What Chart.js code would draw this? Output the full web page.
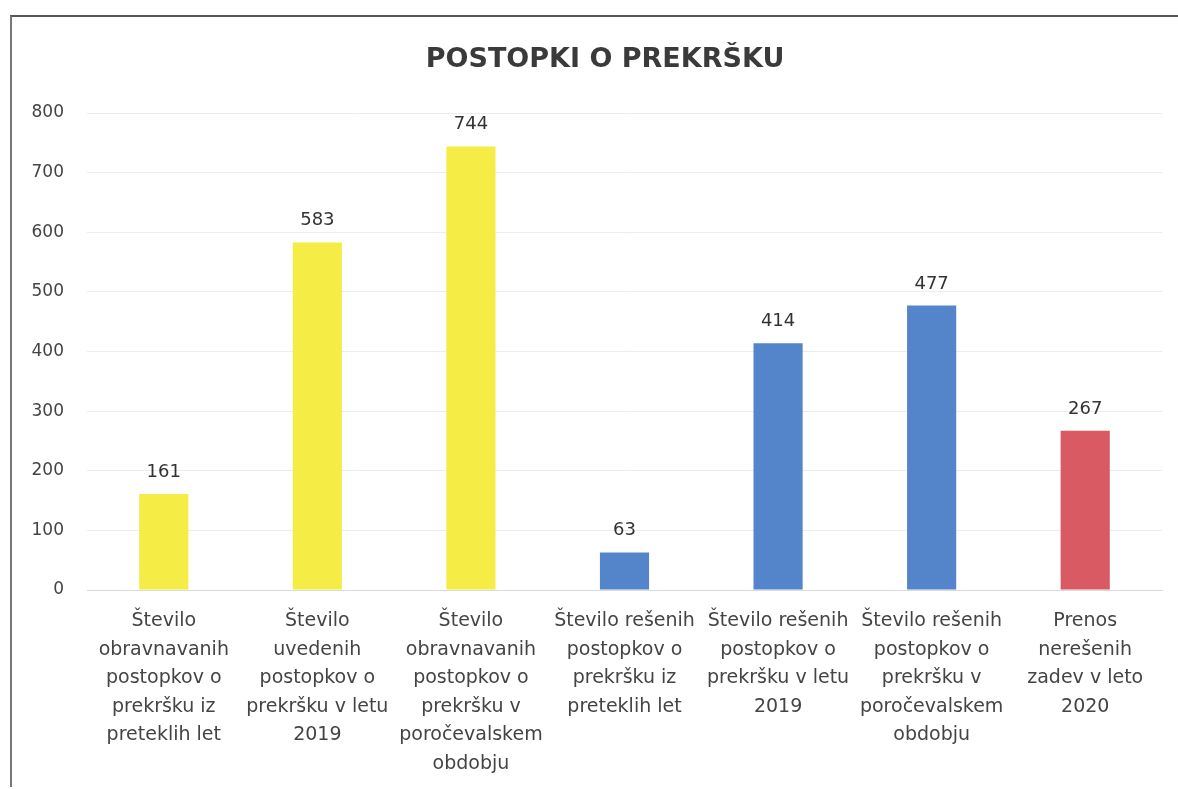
<!DOCTYPE html>
<html>
<head>
<meta charset="utf-8">
<script src="https://cdn.jsdelivr.net/npm/chart.js@4"></script>
<style>
    html, body { margin: 0; padding: 0; background: #fff; }
    #box {
        position: absolute;
        left: 10px;
        top: 15px;
        width: 1168px;
        height: 772px;
        border-left: 2px solid #777;
        border-top: 2px solid #555;
        box-sizing: border-box;
    }
</style>
</head>
<body>
<div id="box"><canvas id="chart"></canvas></div>
<script>
// category labels, already broken into lines as in the original
const categories = [
    ['Število', 'obravnavanih', 'postopkov o', 'prekršku iz', 'preteklih let'],
    ['Število', 'uvedenih', 'postopkov o', 'prekršku v letu', '2019'],
    ['Število', 'obravnavanih', 'postopkov o', 'prekršku v', 'poročevalskem', 'obdobju'],
    ['Število rešenih', 'postopkov o', 'prekršku iz', 'preteklih let'],
    ['Število rešenih', 'postopkov o', 'prekršku v letu', '2019'],
    ['Število rešenih', 'postopkov o', 'prekršku v', 'poročevalskem', 'obdobju'],
    ['Prenos', 'nerešenih', 'zadev v leto', '2020']
];
const values = [161, 583, 744, 63, 414, 477, 267];
const barColors = ['#f5ec45', '#f5ec45', '#f5ec45', '#5484ca', '#5484ca', '#5484ca', '#d95a62'];
const yTicks = [0, 100, 200, 300, 400, 500, 600, 700, 800];
const chartTitle = 'POSTOPKI O PREKRŠKU';

const FONT = '"DejaVu Sans", Verdana, sans-serif';

// title and value labels drawn on the canvas
const extraText = {
    id: 'extraText',
    afterDatasetsDraw(chart) {
        const ctx = chart.ctx;
        const meta = chart.getDatasetMeta(0);
        ctx.save();
        ctx.font = '18px ' + FONT;
        ctx.fillStyle = '#333';
        ctx.textAlign = 'center';
        ctx.textBaseline = 'alphabetic';
        meta.data.forEach((bar, i) => {
            ctx.fillText(values[i], bar.x, bar.y - 17);
        });

        ctx.font = 'bold 27px ' + FONT;
        ctx.fillStyle = '#3a3a3a';
        ctx.fillText(chartTitle, 593, 50);
        ctx.restore();
    }
};

const ctx = document.getElementById('chart').getContext('2d');
new Chart(ctx, {
    type: 'bar',
    data: {
        labels: categories,
        datasets: [{
            data: values,
            backgroundColor: barColors,
            barPercentage: 0.32,
            categoryPercentage: 1
        }]
    },
    options: {
        responsive: true,
        maintainAspectRatio: false,
        animation: false,
        layout: { padding: { left: 0, right: 16, bottom: 0, top: 96 } },
        plugins: {
            legend: { display: false },
            tooltip: { enabled: false },
            title: { display: false }
        },
        scales: {
            x: {
                grid: { display: false },
                border: { color: '#d9d9d9' },
                ticks: {
                    color: '#444',
                    font: { family: FONT, size: 19, lineHeight: 1.5 },
                    maxRotation: 0,
                    autoSkip: false,
                    padding: 9
                },
                afterFit(scale) { scale.height = 197; }
            },
            y: {
                min: 0,
                max: yTicks[yTicks.length - 1],
                grid: { color: '#ececec', drawTicks: false },
                border: { display: false },
                ticks: {
                    stepSize: 100,
                    color: '#444',
                    font: { family: FONT, size: 17 },
                    padding: 23
                },
                afterFit(scale) { scale.width = 75; }
            }
        }
    },
    plugins: [extraText]
});
</script>
</body>
</html>
